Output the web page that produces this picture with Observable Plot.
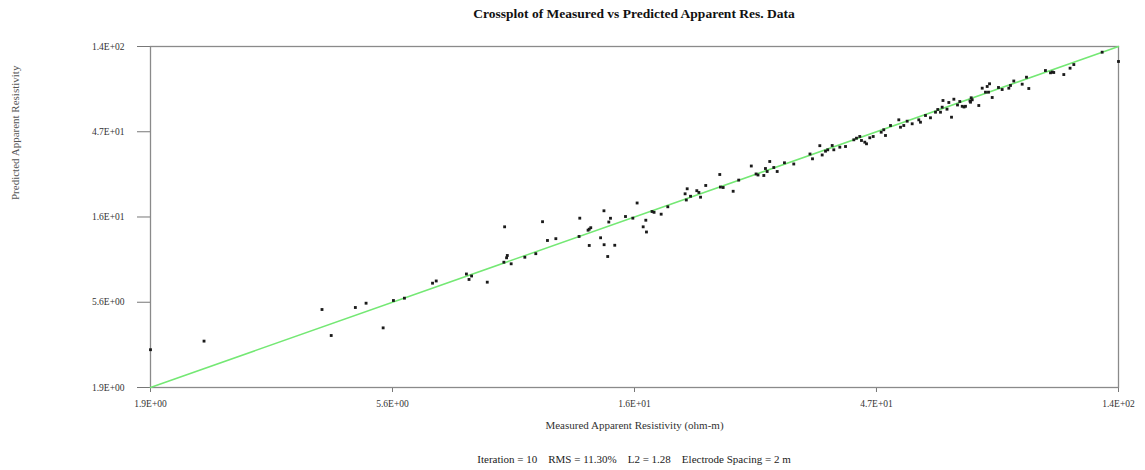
<!DOCTYPE html>
<html>
<head>
<meta charset="utf-8">
<script src="https://cdn.jsdelivr.net/npm/d3@7"></script>
<script src="https://cdn.jsdelivr.net/npm/@observablehq/plot@0.6"></script>
<style>
  html, body { margin: 0; padding: 0; background: #fff; }
  body { width: 1145px; height: 470px; overflow: hidden; font-family: "Liberation Serif", "DejaVu Serif", serif; }
  .title { height: 28px; line-height: 28px; box-sizing: border-box; padding-left: 150px; width: 1118px; text-align: center; font-weight: bold; font-size: 13.5px; color: #111; }
  .caption { height: 23px; line-height: 24px; box-sizing: border-box; padding-left: 150px; width: 1118px; text-align: center; font-size: 11px; color: #222; white-space: pre; }
  svg { display: block; }
</style>
</head>
<body>
<div class="title">Crossplot of Measured vs Predicted Apparent Res. Data</div>
<div id="chart"></div>
<div class="caption">Iteration = 10    RMS = 11.30%    L2 = 1.28    Electrode Spacing = 2 m</div>
<script>
const measured = [
  1.9, 2.41, 4.07, 4.24, 4.72, 4.95, 5.34, 5.59, 5.87, 6.65,
  6.76, 7.73, 7.82, 7.91, 8.48, 9.13, 9.24, 9.27, 9.43, 9.16,
  10.02, 10.52, 10.84, 11.08, 11.50, 12.75, 12.79, 13.27, 13.34, 13.43,
  13.34, 14.03, 14.24, 14.25, 14.48, 14.55, 14.66, 14.94, 15.67, 16.19,
  16.50, 16.95, 17.15, 17.20, 17.63, 17.79, 18.36, 18.91, 20.42, 20.61,
  20.53, 20.92, 21.51, 21.71, 21.87, 22.38, 23.82, 23.89, 24.18, 25.28,
  25.91, 27.40, 27.99, 28.23, 28.97, 29.18, 29.40, 29.74, 30.28, 30.74,
  31.75, 33.09, 35.56, 35.96, 37.15, 37.54, 38.10, 38.48, 39.25, 39.53,
  40.60, 41.64, 43.20, 43.72, 44.36, 44.70, 45.36, 45.71, 46.38, 47.09,
  48.79, 49.35, 49.73, 50.85, 52.76, 53.16, 53.94, 54.76, 55.99, 57.66,
  58.09, 59.40, 60.73, 62.10, 62.73, 63.49, 64.20, 63.97, 65.36, 65.89,
  66.68, 67.38, 68.48, 69.18, 69.93, 70.49, 70.95, 72.38, 72.77, 73.10,
  72.55, 75.27, 76.42, 77.54, 78.13, 78.95, 78.59, 79.89, 82.15, 83.50,
  86.01, 86.65, 87.93, 91.27, 93.03, 93.99, 101.2, 103.5, 104.3, 105.0,
  109.8, 112.9, 114.8, 130.2, 140
];
const predicted = [
  3.06, 3.41, 5.08, 3.66, 5.21, 5.50, 4.03, 5.69, 5.86, 7.08,
  7.28, 7.95, 7.42, 7.75, 7.17, 9.22, 9.75, 10.04, 9.04, 14.41,
  9.82, 10.27, 15.37, 12.13, 12.41, 12.76, 16.07, 13.81, 13.99, 14.25,
  11.39, 12.55, 17.64, 11.50, 9.91, 15.31, 16.05, 11.42, 16.41, 16.07,
  19.46, 14.41, 15.66, 13.50, 17.48, 17.30, 16.90, 18.55, 21.85, 23.28,
  20.21, 21.18, 22.73, 22.22, 20.94, 24.27, 27.87, 23.80, 23.66, 22.56,
  25.97, 31.02, 28.06, 27.70, 27.53, 30.06, 28.95, 32.84, 30.44, 28.95,
  32.31, 31.82, 36.09, 33.97, 40.09, 35.65, 37.40, 38.06, 40.18, 38.06,
  39.33, 39.67, 43.17, 44.06, 45.01, 42.80, 41.90, 41.05, 44.29, 45.01,
  47.52, 48.98, 45.59, 51.70, 55.54, 50.60, 51.70, 54.58, 52.83, 55.54,
  53.90, 58.66, 56.98, 61.15, 63.26, 61.15, 70.86, 65.13, 63.50, 69.11,
  57.41, 72.03, 66.97, 69.97, 65.87, 65.29, 65.87, 70.42, 73.33, 71.50,
  69.37, 66.53, 82.77, 78.70, 84.56, 87.49, 78.70, 73.60, 83.50, 81.39,
  82.77, 85.64, 90.62, 87.05, 95.06, 82.44, 103.4, 100.5, 101.5, 100.9,
  98.3, 106.5, 111.5, 130.3, 115.9
];
const axisDomain = [1.9, 140];
const tickValues = [1.9, 5.567, 16.31, 47.78, 140];
const tickLabels = ["1.9E+00", "5.6E+00", "1.6E+01", "4.7E+01", "1.4E+02"];
const xLabel = "Measured Apparent Resistivity (ohm-m)";
const yLabel = "Predicted Apparent Resistivity";

const points = measured.map((m, i) => ({measured: m, predicted: predicted[i]}));
const ticks = tickValues.map((v, i) => ({value: v, label: tickLabels[i]}));

const chart = Plot.plot({
  width: 1145,
  height: 419,
  marginTop: 18,
  marginBottom: 60,
  marginLeft: 150,
  marginRight: 27,
  style: {fontFamily: "Liberation Serif, serif", fontSize: "9.5px", color: "#333", background: "#fff"},
  x: {type: "log", domain: axisDomain},
  y: {type: "log", domain: axisDomain},
  marks: [
    Plot.axisX({ticks: tickValues, tickFormat: null, text: null, tickSize: 5, label: null, stroke: "#777"}),
    Plot.axisY({ticks: tickValues, tickFormat: null, text: null, tickSize: 13, label: null, stroke: "#777"}),
    Plot.text(ticks, {x: "value", text: "label", frameAnchor: "bottom", dy: 19, fill: "#333", fontSize: 9.5}),
    Plot.text(ticks, {y: "value", text: "label", frameAnchor: "left", dx: -26, textAnchor: "end", fill: "#333", fontSize: 9.5}),
    Plot.frame({stroke: "#8a8a8a", strokeWidth: 1.3}),
    Plot.line(axisDomain, {x: d => d, y: d => d, stroke: "#74e874", strokeWidth: 1.5}),
    Plot.dot(points, {x: "measured", y: "predicted", symbol: "square", r: 1.6, fill: "#1a1a1a", stroke: "none"}),
    Plot.text([xLabel], {frameAnchor: "bottom", dy: 41, text: d => d, fontSize: 11, fill: "#333"}),
    Plot.text([yLabel], {frameAnchor: "left", dx: -135, dy: -17, rotate: -90, text: d => d, fontSize: 11, fill: "#555"})
  ]
});
document.getElementById("chart").appendChild(chart);
</script>
</body>
</html>
